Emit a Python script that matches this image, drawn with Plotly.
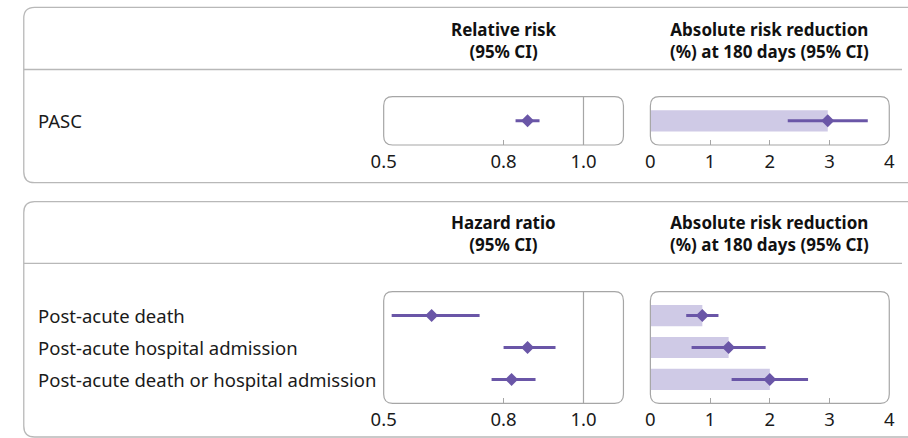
import plotly.graph_objects as go

W, H = 908, 438

# ---- data ----
pasc_labels = ["PASC"]
pasc_rr = [0.86]
pasc_rr_lo = [0.83]
pasc_rr_hi = [0.89]
pasc_arr = [2.97]
pasc_arr_lo = [2.30]
pasc_arr_hi = [3.64]

post_labels = ["Post-acute death", "Post-acute hospital admission",
               "Post-acute death or hospital admission"]
post_hr = [0.62, 0.86, 0.82]
post_hr_lo = [0.52, 0.80, 0.77]
post_hr_hi = [0.74, 0.93, 0.88]
post_arr = [0.87, 1.31, 2.00]
post_arr_lo = [0.60, 0.69, 1.36]
post_arr_hi = [1.14, 1.93, 2.64]

ratio_ticks = [0.5, 0.8, 1.0]
ratio_ticktext = ["0.5", "0.8", "1.0"]
arr_ticks = [0, 1, 2, 3, 4]

PURPLE = "#6a56a7"
LAVENDER = "#cfcae6"
PANEL_GREY = "#a6a6a6"
BOX_GREY = "#b8b8b8"
FONT = "Noto Sans"
TEXT_SIZE = 18.5
HEAD_SIZE = 17


def px(x):
    return x / W


def py(y):
    return 1 - y / H


def rounded_path(x0, y0, x1, y1, r):
    pts = [
        ("M", [(x0 + r, y0)]),
        ("L", [(x1 - r, y0)]),
        ("Q", [(x1, y0), (x1, y0 + r)]),
        ("L", [(x1, y1 - r)]),
        ("Q", [(x1, y1), (x1 - r, y1)]),
        ("L", [(x0 + r, y1)]),
        ("Q", [(x0, y1), (x0, y1 - r)]),
        ("L", [(x0, y0 + r)]),
        ("Q", [(x0, y0), (x0 + r, y0)]),
    ]
    s = ""
    for cmd, coords in pts:
        s += cmd + " " + " ".join(f"{px(a):.6f},{py(b):.6f}" for a, b in coords) + " "
    return s + "Z"


# panel geometry in pixels
RX0, RX1 = 378.6, 623.5   # ratio panels
AX0, AX1 = 651.0, 895.0   # absolute risk panels
P1Y0, P1Y1 = 96.7, 145.0
P2Y0, P2Y1 = 291.7, 403.3

fig = go.Figure()


def add_panel(xa, ya, labels, est, lo, hi, bar):
    ys = list(range(len(labels)))
    if bar:
        fig.add_trace(go.Bar(
            x=est, y=ys, orientation="h", width=0.66,
            marker=dict(color=LAVENDER, line=dict(width=0)),
            xaxis=xa, yaxis=ya, hoverinfo="skip", showlegend=False))
    fig.add_trace(go.Scatter(
        x=est, y=ys, mode="markers",
        marker=dict(symbol="diamond", size=10, color=PURPLE,
                    line=dict(width=0)),
        error_x=dict(type="data", symmetric=False,
                     array=[h - e for h, e in zip(hi, est)],
                     arrayminus=[e - l for e, l in zip(est, lo)],
                     color=PURPLE, thickness=3, width=0),
        xaxis=xa, yaxis=ya, showlegend=False, hoverinfo="skip"))


add_panel("x", "y", pasc_labels, pasc_rr, pasc_rr_lo, pasc_rr_hi, False)
add_panel("x2", "y2", pasc_labels, pasc_arr, pasc_arr_lo, pasc_arr_hi, True)
add_panel("x3", "y3", post_labels, post_hr, post_hr_lo, post_hr_hi, False)
add_panel("x4", "y4", post_labels, post_arr, post_arr_lo, post_arr_hi, True)

tickfont = dict(family=FONT, size=TEXT_SIZE, color="#1a1a1a")
common_x = dict(ticks="inside", ticklen=5, tickcolor=PANEL_GREY, tickwidth=1,
                showgrid=False, zeroline=False, showline=False,
                tickfont=tickfont, ticklabelstandoff=3, fixedrange=True)
ratio_axis = dict(range=[0.5, 1.1], tickvals=ratio_ticks, ticktext=ratio_ticktext, **common_x)
arr_axis = dict(range=[0, 4], tickvals=arr_ticks, **common_x)
hidden_y = dict(showticklabels=False, ticks="", showgrid=False,
                zeroline=False, showline=False, fixedrange=True)

fig.update_layout(
    width=W, height=H,
    margin=dict(l=0, r=0, t=0, b=0),
    paper_bgcolor="white", plot_bgcolor="rgba(0,0,0,0)",
    barmode="overlay",
    font=dict(family=FONT, size=TEXT_SIZE, color="#1a1a1a"),
    xaxis=dict(domain=[px(RX0), px(RX1)], anchor="y", **ratio_axis),
    xaxis2=dict(domain=[px(AX0), px(AX1)], anchor="y2", **arr_axis),
    xaxis3=dict(domain=[px(RX0), px(RX1)], anchor="y3", **ratio_axis),
    xaxis4=dict(domain=[px(AX0), px(AX1)], anchor="y4", **arr_axis),
    yaxis=dict(domain=[py(P1Y1), py(P1Y0)], anchor="x", range=[0.75, -0.75], **hidden_y),
    yaxis2=dict(domain=[py(P1Y1), py(P1Y0)], anchor="x2", range=[0.75, -0.75], **hidden_y),
    yaxis3=dict(domain=[py(P2Y1), py(P2Y0)], anchor="x3", range=[2.75, -0.75], **hidden_y),
    yaxis4=dict(domain=[py(P2Y1), py(P2Y0)], anchor="x4", range=[2.75, -0.75], **hidden_y),
)

shapes = []
# outer section boxes (open to the right edge)
for y0, y1, ydiv in [(7.3, 182.7, 69.5), (201.7, 437.0, 263.3)]:
    shapes.append(dict(type="path", xref="paper", yref="paper",
                       path=rounded_path(11, y0, 960, y1, 11),
                       line=dict(color=BOX_GREY, width=1.3), layer="below"))
    shapes.append(dict(type="line", xref="paper", yref="paper",
                       x0=px(11), x1=1, y0=py(ydiv), y1=py(ydiv),
                       line=dict(color=BOX_GREY, width=1.3), layer="below"))

# rounded panel frames
for x0, x1 in [(RX0, RX1), (AX0, AX1)]:
    for y0, y1 in [(P1Y0, P1Y1), (P2Y0, P2Y1)]:
        shapes.append(dict(type="path", xref="paper", yref="paper",
                           path=rounded_path(x0, y0, x1, y1, 9),
                           line=dict(color=PANEL_GREY, width=1.2), layer="above"))

# null reference line at 1.0
for xref, yref in [("x", "y domain"), ("x3", "y3 domain")]:
    shapes.append(dict(type="line", xref=xref, yref=yref,
                       x0=1.0, x1=1.0, y0=0, y1=1,
                       line=dict(color=PANEL_GREY, width=1.2), layer="below"))
fig.update_layout(shapes=shapes)

annotations = []
head_font = dict(family=FONT, size=HEAD_SIZE, color="#111111")
# two-line column headers
for yc, rtitle in [(40.0, "Relative risk"), (233.0, "Hazard ratio")]:
    for xc, text in [((RX0 + RX1) / 2, f"<b>{rtitle}<br>(95% CI)</b>"),
                     ((AX0 + AX1) / 2, "<b>Absolute risk reduction<br>(%) at 180 days (95% CI)</b>")]:
        annotations.append(dict(xref="paper", yref="paper", x=px(xc), y=py(yc),
                                text=text, showarrow=False,
                                xanchor="center", yanchor="middle", font=head_font))

# row labels, aligned to the rows of each panel
for labels, ya in [(pasc_labels, "y"), (post_labels, "y3")]:
    for i, lab in enumerate(labels):
        annotations.append(dict(xref="paper", yref=ya, x=px(24), y=i, text=lab,
                                showarrow=False, xanchor="left", yanchor="middle",
                                font=dict(family=FONT, size=TEXT_SIZE, color="#1a1a1a")))
fig.update_layout(annotations=annotations)

fig.write_html("out.html")
